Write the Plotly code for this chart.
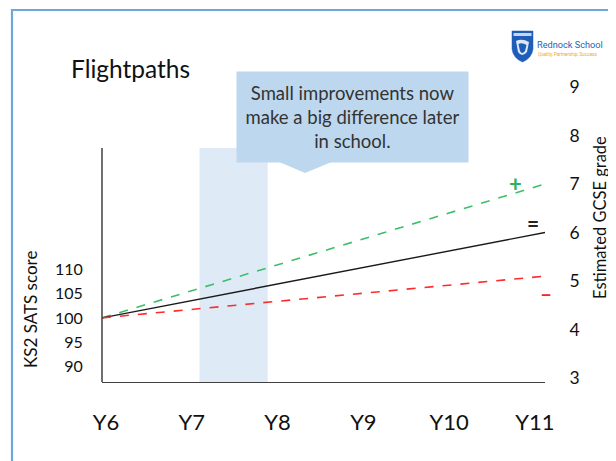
import plotly.graph_objects as go

# ---------------- data ----------------
years = ["Y6", "Y7", "Y8", "Y9", "Y10", "Y11"]
ks2_ticks = [90, 95, 100, 105, 110]
gcse_ticks = [3, 4, 5, 6, 7, 8, 9]
path_x = ["Y6", "Y11"]
ks2_start = [100]
higher_path = [4.24, 7.0]
expected_path = [4.24, 6.0]
lower_path = [4.24, 5.1]
callout_lines = ["Small improvements now", "make a big difference later", "in school."]

# ---------------- geometry helpers (window pixel -> paper) ----------------
OFF = 8  # page body margin
W, H = 616 - OFF, 461 - OFF
L, R, T, B = 102 - OFF, 71, 80 - OFF, 79
PW, PH = W - L - R, H - T - B


def px(x):
    return (x - OFF - L) / PW


def py(y):
    return (H - B - (y - OFF)) / PH


FONT = "Lato"
fig = go.Figure()

fig.add_trace(go.Scatter(x=path_x, y=higher_path, mode="lines", xaxis="x", yaxis="y",
                         line=dict(color="#3DBE6A", width=1.6, dash="dash"), showlegend=False))
fig.add_trace(go.Scatter(x=path_x, y=expected_path, mode="lines", xaxis="x", yaxis="y",
                         line=dict(color="#1a1a1a", width=1.4), showlegend=False))
fig.add_trace(go.Scatter(x=path_x, y=lower_path, mode="lines", xaxis="x", yaxis="y",
                         line=dict(color="#FF2A2A", width=1.6, dash="dash"), showlegend=False))
fig.add_trace(go.Scatter(x=["Y6"], y=ks2_start, mode="markers", xaxis="x2", yaxis="y2",
                         marker=dict(size=1, opacity=0), showlegend=False, hoverinfo="skip"))

shapes = []
# highlighted band between Y7 and Y8
shapes.append(dict(type="rect", xref="x", yref="y", x0=1.1, x1=1.87, y0=2.9175, y1=7.74,
                   fillcolor="#DEEAF6", line=dict(width=0), layer="below"))
# left axis line
shapes.append(dict(type="line", xref="paper", yref="paper", x0=0, x1=0, y0=0, y1=py(148),
                   line=dict(color="#333333", width=1.4)))
# slide border (left + top)
shapes.append(dict(type="path", xref="paper", yref="paper",
                   path=f"M {px(12)} {py(470)} L {px(12)} {py(10)} L {px(640)} {py(10)}",
                   line=dict(color="#6FA6DC", width=2.2)))
# callout pointer
shapes.append(dict(type="path", xref="paper", yref="paper",
                   path=f"M {px(277)} {py(161)} L {px(305)} {py(173)} L {px(334)} {py(161)} Z",
                   fillcolor="#BDD7EE", line=dict(width=0)))
# logo shield
shapes.append(dict(type="path", xref="paper", yref="paper",
                   path=(f"M {px(512)} {py(31)} L {px(533)} {py(31)} L {px(533)} {py(49)} "
                         f"Q {px(532)} {py(58)} {px(522.5)} {py(62)} Q {px(513)} {py(58)} {px(512)} {py(49)} Z"),
                   fillcolor="#1F5EB8", line=dict(color="#1F5EB8", width=0.5)))
shapes.append(dict(type="rect", xref="paper", yref="paper",
                   x0=px(513.5), x1=px(531.5), y0=py(36), y1=py(33),
                   fillcolor="#FFFFFF", line=dict(width=0), opacity=0.75))
shapes.append(dict(type="path", xref="paper", yref="paper",
                   path=(f"M {px(516)} {py(41)} Q {px(522)} {py(38)} {px(529)} {py(42)} "
                         f"L {px(527)} {py(52)} Q {px(522)} {py(58)} {px(518)} {py(52)} Z"),
                   fillcolor="#FFFFFF", line=dict(width=0), opacity=0.85))
shapes.append(dict(type="path", xref="paper", yref="paper",
                   path=(f"M {px(518.5)} {py(44)} Q {px(522)} {py(42)} {px(526.5)} {py(45)} "
                         f"L {px(525)} {py(51)} Q {px(522)} {py(55)} {px(520)} {py(51)} Z"),
                   fillcolor="#1F5EB8", line=dict(width=0)))

annotations = []
# title
annotations.append(dict(text="Flightpaths", xref="paper", yref="paper", x=px(69), y=py(68),
                        xanchor="left", yanchor="middle", showarrow=False,
                        font=dict(family=FONT, size=24.5, color="#111111")))
# callout box
annotations.append(dict(text="<br>".join(callout_lines), xref="paper", yref="paper",
                        x=px(352.5), y=py(117), xanchor="center", yanchor="middle",
                        width=231, height=90, bgcolor="#BDD7EE", borderpad=0,
                        showarrow=False, align="center",
                        font=dict(family=FONT, size=18.5, color="#333333")))
# axis titles
annotations.append(dict(text="KS2 SATS score", xref="paper", yref="paper", x=px(30), y=py(310),
                        textangle=-90, showarrow=False, xanchor="center", yanchor="middle",
                        font=dict(family=FONT, size=17, color="#111111")))
annotations.append(dict(text="Estimated GCSE grade", xref="paper", yref="paper", x=px(600), y=py(218),
                        textangle=-90, showarrow=False, xanchor="center", yanchor="middle",
                        font=dict(family=FONT, size=16.5, color="#111111")))
# path markers
annotations.append(dict(text="<b>+</b>", xref="paper", yref="paper", x=px(515.5), y=py(183),
                        xanchor="center", yanchor="middle",
                        showarrow=False, font=dict(family=FONT, size=22, color="#2DB35A")))
annotations.append(dict(text="<b>=</b>", xref="paper", yref="paper", x=px(532.5), y=py(222),
                        xanchor="center", yanchor="middle",
                        showarrow=False, font=dict(family=FONT, size=21, color="#222222")))
annotations.append(dict(text="<b>–</b>", xref="paper", yref="paper", x=px(546), y=py(292),
                        xanchor="center", yanchor="middle",
                        showarrow=False, font=dict(family=FONT, size=21, color="#FF2020")))
# logo text
annotations.append(dict(text="Rednock School", xref="paper", yref="paper", x=px(535), y=py(44),
                        xanchor="left", yanchor="middle", showarrow=False,
                        font=dict(family="Roboto", size=9.2, color="#2463B8")))
annotations.append(dict(text="Quality, Partnership, Success", xref="paper", yref="paper",
                        x=px(535.5), y=py(55), xanchor="left", yanchor="middle", showarrow=False,
                        font=dict(family="Roboto", size=4.6, color="#F2A818")))

fig.update_layout(
    width=W, height=H,
    margin=dict(l=L, r=R, t=T, b=B, autoexpand=False),
    paper_bgcolor="white", plot_bgcolor="rgba(0,0,0,0)",
    showlegend=False,
    xaxis=dict(type="category", categoryorder="array", categoryarray=years, range=[0, 5],
               showline=True, linecolor="#404040", linewidth=1.4, showgrid=False, zeroline=False,
               showticklabels=False, ticks=""),
    xaxis2=dict(type="category", categoryorder="array", categoryarray=years,
                range=[-0.047, 5.117], overlaying="x", anchor="y", side="bottom",
                showline=False, showgrid=False, zeroline=False,
                ticks="outside", ticklen=21, tickcolor="rgba(0,0,0,0)",
                tickfont=dict(family=FONT, size=22, color="#111111")),
    yaxis=dict(side="right", range=[2.9175, 9.144], tickvals=gcse_ticks, showline=False,
               showgrid=False, zeroline=False, ticks="outside", ticklen=20,
               tickcolor="rgba(0,0,0,0)", tickfont=dict(family=FONT, size=17.5, color="#111111")),
    yaxis2=dict(overlaying="y", anchor="x", side="left", range=[86.83, 148.97], tickvals=ks2_ticks,
                showline=False, showgrid=False, zeroline=False, ticks="outside", ticklen=15,
                tickcolor="rgba(0,0,0,0)", tickfont=dict(family=FONT, size=16, color="#111111")),
    shapes=shapes,
    annotations=annotations,
)

fig.write_html("out.html")
